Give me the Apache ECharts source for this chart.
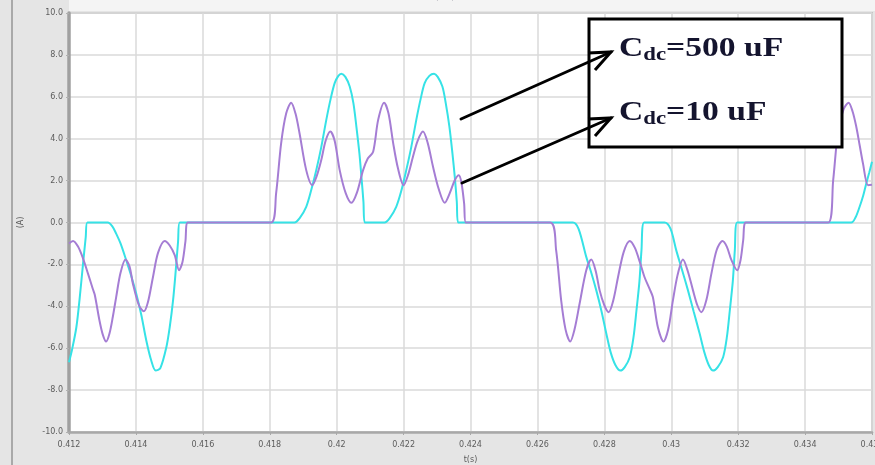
<!DOCTYPE html>
<html>
<head>
<meta charset="utf-8">
<script src="https://cdn.jsdelivr.net/npm/echarts@6/dist/echarts.min.js"></script>
<style>
  html, body { margin: 0; padding: 0; background: #e5e5e5; overflow: hidden; }
  #chart { width: 875px; height: 465px; }
</style>
</head>
<body>
<div id="chart"></div>
<script>
// Axis tick labels
const xTickLabels = ['0.412', '0.414', '0.416', '0.418', '0.42', '0.422', '0.424', '0.426', '0.428', '0.43', '0.432', '0.434', '0.436'];
const yTickLabels = ['-10.0', '-8.0', '-6.0', '-4.0', '-2.0', '0.0', '2.0', '4.0', '6.0', '8.0', '10.0'];

// Source current, Cdc = 10 uF (time in s, current in A)
const cdc10Time = [
  0.41200, 0.41212, 0.41227, 0.41242, 0.41257, 0.41271, 0.41277, 0.41291, 0.41301, 0.41311,
  0.41321, 0.41331, 0.41341, 0.41354, 0.41369, 0.41381, 0.41391, 0.41409, 0.41424, 0.41436,
  0.41451, 0.41466, 0.41486, 0.41501, 0.41516, 0.41529, 0.41539, 0.41548, 0.41555,
  0.41804, 0.41819, 0.41834, 0.41849, 0.41864, 0.41877, 0.41889, 0.41909, 0.41927, 0.41940,
  0.41954, 0.41967, 0.41981, 0.41994, 0.42009, 0.42027, 0.42044, 0.42060, 0.42079, 0.42093,
  0.42109, 0.42124, 0.42142, 0.42155, 0.42169, 0.42183, 0.42200, 0.42214, 0.42228, 0.42242,
  0.42258, 0.42272, 0.42288, 0.42305, 0.42323, 0.42338, 0.42353, 0.42365, 0.42373, 0.42381,
  0.42386,
  0.42638, 0.42656, 0.42671, 0.42684, 0.42698, 0.42711, 0.42726, 0.42746, 0.42761, 0.42774,
  0.42786, 0.42800, 0.42813, 0.42827, 0.42841, 0.42858, 0.42876, 0.42891, 0.42906, 0.42920,
  0.42935, 0.42945, 0.42960, 0.42977, 0.42991, 0.43005, 0.43019, 0.43035, 0.43049, 0.43065,
  0.43078, 0.43090, 0.43105, 0.43120, 0.43136, 0.43153, 0.43166, 0.43180, 0.43197, 0.43207,
  0.43215, 0.43223,
  0.43469, 0.43484, 0.43499, 0.43515, 0.43530, 0.43542, 0.43553, 0.43563, 0.43573, 0.43588,
  0.43600
];
const cdc10Current = [
  -1.00, -0.88, -1.15, -1.72, -2.45, -3.16, -3.45, -4.67, -5.35, -5.68,
  -5.30, -4.50, -3.56, -2.40, -1.77, -2.10, -2.92, -3.95, -4.24, -3.80,
  -2.60, -1.45, -0.88, -1.10, -1.56, -2.28, -1.90, -0.90, 0,
  0, 1.39, 3.78, 5.20, 5.72, 5.20, 4.26, 2.50, 1.78, 2.20,
  2.98, 3.90, 4.34, 3.90, 2.50, 1.40, 0.94, 1.40, 2.50, 3.05,
  3.38, 4.90, 5.72, 5.20, 3.78, 2.60, 1.78, 2.30, 3.14, 3.90,
  4.34, 3.80, 2.66, 1.60, 0.94, 1.40, 2.02, 2.26, 1.90, 0.90,
  0,
  0, -1.33, -3.72, -5.10, -5.68, -5.10, -3.88, -2.28, -1.77, -2.30,
  -3.24, -3.95, -4.28, -3.70, -2.60, -1.40, -0.88, -1.20, -1.88, -2.60,
  -3.16, -3.56, -5.00, -5.68, -5.10, -3.72, -2.50, -1.77, -2.30, -3.24,
  -3.95, -4.28, -3.70, -2.44, -1.30, -0.88, -1.15, -1.80, -2.28, -1.80,
  -0.85, 0,
  0, 2.02, 4.42, 5.40, 5.72, 5.30, 4.57, 3.70, 2.82, 1.78,
  1.80
];

// Source current, Cdc = 500 uF
const cdc500Time = [
  0.41200, 0.41210, 0.41222, 0.41232, 0.41242, 0.41250, 0.41255,
  0.41316, 0.41330, 0.41341, 0.41354, 0.41371, 0.41386, 0.41401, 0.41416, 0.41431, 0.41446,
  0.41459, 0.41473, 0.41491, 0.41501, 0.41511, 0.41519, 0.41526, 0.41531,
  0.41874, 0.41889, 0.41909, 0.41924, 0.41939, 0.41954, 0.41969, 0.41982, 0.41994, 0.42005,
  0.42014, 0.42026, 0.42039, 0.42050, 0.42059, 0.42068, 0.42074, 0.42080, 0.42084,
  0.42143, 0.42158, 0.42178, 0.42193, 0.42208, 0.42223, 0.42238, 0.42251, 0.42263, 0.42277,
  0.42291, 0.42302, 0.42316, 0.42326, 0.42337, 0.42346, 0.42353, 0.42359, 0.42363,
  0.42706, 0.42723, 0.42746, 0.42761, 0.42776, 0.42791, 0.42806, 0.42819, 0.42833, 0.42848,
  0.42861, 0.42876, 0.42887, 0.42896, 0.42905, 0.42911, 0.42919,
  0.42980, 0.42998, 0.43015, 0.43033, 0.43050, 0.43067, 0.43085, 0.43099, 0.43112, 0.43125,
  0.43139, 0.43155, 0.43166, 0.43175, 0.43184, 0.43190, 0.43197,
  0.43538, 0.43551, 0.43563, 0.43574, 0.43583, 0.43592, 0.43600
];
const cdc500Current = [
  -6.67, -6.00, -5.00, -3.60, -1.96, -0.70, 0,
  0, -0.20, -0.53, -1.00, -1.80, -2.55, -3.40, -4.40, -5.63, -6.60,
  -7.07, -6.95, -5.95, -5.00, -3.72, -2.30, -0.90, 0,
  0, 0.20, 0.75, 1.55, 2.50, 3.60, 4.90, 5.90, 6.65, 7.00,
  7.10, 6.95, 6.49, 5.70, 4.57, 3.30, 2.18, 1.00, 0,
  0, 0.20, 0.75, 1.50, 2.50, 3.60, 4.90, 5.90, 6.65, 7.00,
  7.10, 6.95, 6.49, 5.70, 4.57, 3.30, 2.18, 1.00, 0,
  0, -0.30, -1.64, -2.40, -3.24, -4.20, -5.31, -6.20, -6.80, -7.07,
  -6.90, -6.43, -5.50, -4.20, -2.80, -1.33, 0,
  0, -0.30, -1.33, -2.30, -3.24, -4.25, -5.31, -6.20, -6.80, -7.07,
  -6.90, -6.43, -5.50, -4.20, -2.80, -1.33, 0,
  0, 0.25, 0.75, 1.30, 1.87, 2.40, 2.90
];

const xMin = 0.412, xMax = 0.436, xStep = 0.002;
const yMin = -10, yMax = 10, yStep = 2;

function pairs(ts, vs) {
  return ts.map(function (t, i) { return [t, vs[i]]; });
}

const chart = echarts.init(document.getElementById('chart'), null, { renderer: 'canvas', width: 875, height: 465 });

const labelFont = { fontFamily: 'DejaVu Sans', fontSize: 8, color: '#5c5c5c' };
const serif = '"Liberation Serif", "Times New Roman", serif';
const inkColor = '#14142e';

function legendText(value) {
  return {
    text: '{c|C}{s|dc}{c|=' + value + '}',
    rich: {
      c: { fontFamily: serif, fontWeight: 'bold', fontSize: 28, lineHeight: 32, fill: inkColor, verticalAlign: 'middle' },
      s: { fontFamily: serif, fontWeight: 'bold', fontSize: 19, lineHeight: 21, fill: inkColor, verticalAlign: 'bottom' }
    }
  };
}

chart.setOption({
  backgroundColor: '#e5e5e5',
  animation: false,
  grid: {
    left: 69, right: 3, top: 13, bottom: 33,
    outerBoundsMode: 'none', containLabel: false,
    show: true, backgroundColor: '#ffffff', borderColor: '#c4c4c4', borderWidth: 2
  },
  xAxis: {
    type: 'value', min: xMin, max: xMax, interval: xStep,
    name: 't(s)', nameLocation: 'middle', nameGap: 24,
    nameTextStyle: labelFont,
    axisLine: { show: true, onZero: false, lineStyle: { color: '#a8a8a8', width: 2.5 } },
    axisTick: { show: true, length: 3, lineStyle: { color: '#a8a8a8' } },
    axisLabel: Object.assign({ margin: 9, hideOverlap: false, formatter: function (v) {
      return xTickLabels[Math.round((v - xMin) / xStep)];
    } }, labelFont),
    splitLine: { show: true, lineStyle: { color: '#dadada', width: 1.5 } }
  },
  yAxis: {
    type: 'value', min: yMin, max: yMax, interval: yStep,
    name: '(A)', nameLocation: 'middle', nameGap: 44,
    nameTextStyle: labelFont,
    axisLine: { show: true, onZero: false, lineStyle: { color: '#a0a0a0', width: 3.5 } },
    axisTick: { show: true, length: 3, lineStyle: { color: '#b0b0b0' } },
    axisLabel: Object.assign({ margin: 6, formatter: function (v) {
      return yTickLabels[Math.round((v - yMin) / yStep)];
    } }, labelFont),
    splitLine: { show: true, lineStyle: { color: '#dadada', width: 1.5 } }
  },
  series: [
    {
      name: 'Cdc=500 uF', type: 'line', data: pairs(cdc500Time, cdc500Current),
      smooth: 0.3, showSymbol: false, z: 3,
      lineStyle: { color: '#36e2e6', width: 2 }
    },
    {
      name: 'Cdc=10 uF', type: 'line', data: pairs(cdc10Time, cdc10Current),
      smooth: 0.3, showSymbol: false, z: 4,
      lineStyle: { color: '#a57dd4', width: 2 }
    }
  ],
  graphic: [
    // frame decoration of the plot window
    { type: 'rect', z: -10, shape: { x: 69, y: 0, width: 806, height: 11 }, style: { fill: '#f4f4f4' } },
    { type: 'line', z: -10, shape: { x1: 12, y1: 0, x2: 12, y2: 465 }, style: { stroke: '#a9a9a9', lineWidth: 2 } },
    // panel caption, mostly above the top edge
    { type: 'text', z: -5, x: 445, y: 1, style: { text: '(a)', fontFamily: serif, fontWeight: 'bold', fontSize: 26, fill: inkColor, align: 'center', verticalAlign: 'bottom' } },
    // annotation box
    { type: 'rect', z: 100, shape: { x: 589, y: 19, width: 253, height: 128 },
      style: { fill: '#ffffff', stroke: '#000000', lineWidth: 3 } },
    { type: 'text', z: 101, x: 619, y: 33, scaleX: 1.2, style: legendText('500 uF') },
    { type: 'text', z: 101, x: 619, y: 97, scaleX: 1.2, style: legendText('10 uF') },
    // arrows
    { type: 'line', z: 102, shape: { x1: 461, y1: 119, x2: 611, y2: 52 }, style: { stroke: '#000', lineWidth: 3, lineCap: 'round' } },
    { type: 'polyline', z: 102, shape: { points: [[588, 53], [611, 52], [595, 70]] }, style: { stroke: '#000', fill: null, lineWidth: 3, lineJoin: 'miter' } },
    { type: 'line', z: 102, shape: { x1: 462, y1: 183, x2: 611, y2: 118 }, style: { stroke: '#000', lineWidth: 3, lineCap: 'round' } },
    { type: 'polyline', z: 102, shape: { points: [[588, 119], [611, 118], [595, 136]] }, style: { stroke: '#000', fill: null, lineWidth: 3, lineJoin: 'miter' } }
  ]
});
</script>
</body>
</html>
